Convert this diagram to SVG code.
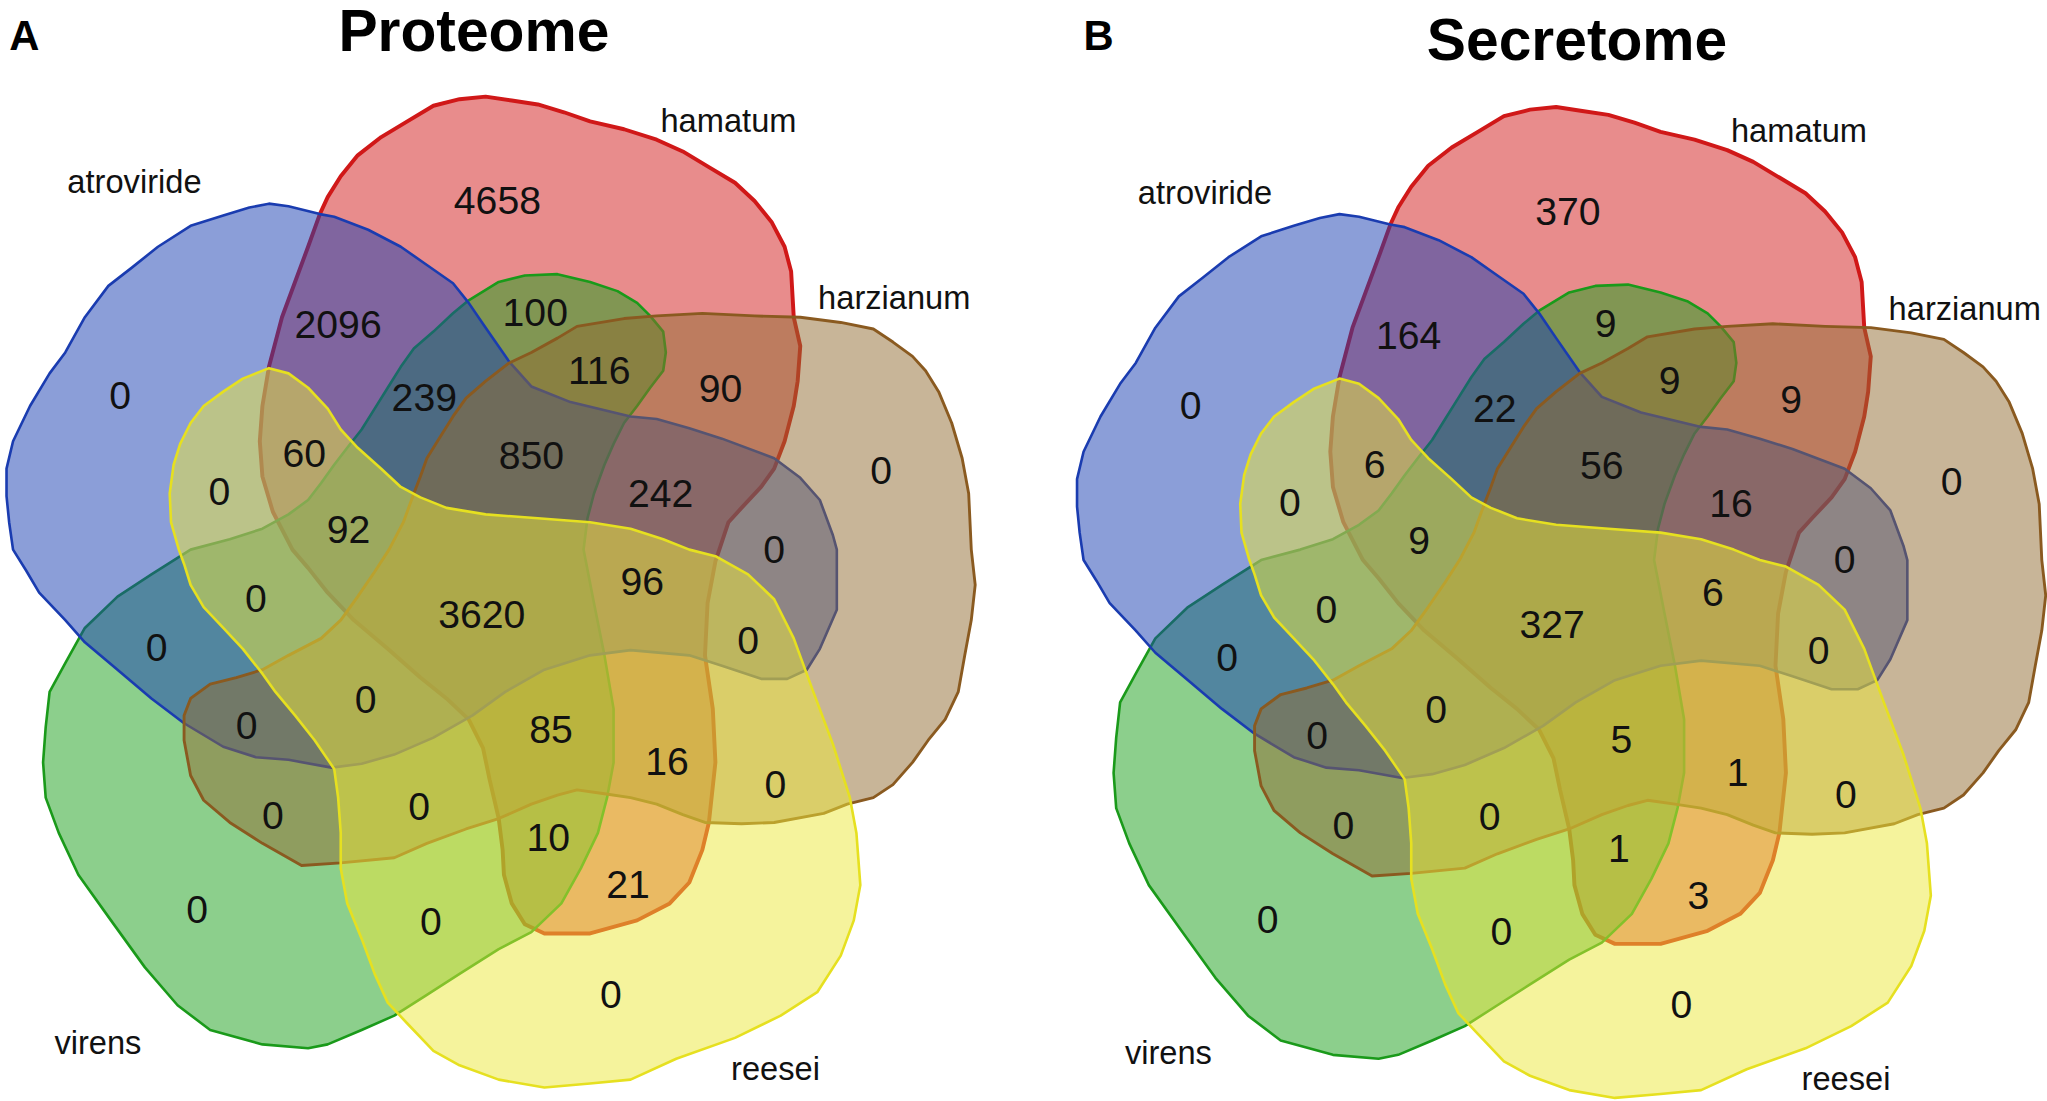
<svg xmlns="http://www.w3.org/2000/svg" width="2047" height="1101" viewBox="0 0 2047 1101">
<style>
.s{stroke-linejoin:round}
.red{fill:#d11a1a;fill-opacity:.5;stroke:#d01818;stroke-width:3}
.grn{fill:#199f19;fill-opacity:.5;stroke:#1a9a1a;stroke-width:2}
.blu{fill:#173db1;fill-opacity:.5;stroke:#1a3cb0;stroke-width:2}
.brn{fill:#916b31;fill-opacity:.5;stroke:#8a5a20;stroke-width:2.2}
.yel{fill:#ebe739;fill-opacity:.5;stroke:#e6e020;stroke-width:2}
text{font-family:"Liberation Sans",Arial,sans-serif;fill:#111}
.n{font-size:30px;text-anchor:middle}
.l{font-size:25px;text-anchor:middle}
.t{font-size:45px;font-weight:bold;text-anchor:middle;fill:#000}
.p{font-size:32px;font-weight:bold;fill:#000}
</style>
<defs>
<path id="shRed" d="M245,164 L251,151 261,135 274,119 292,105 312,93 332,81 352,76 372,74 392,77 412,80 432,86 452,93 478,99 503,107 523,116 543,128 563,140 578,154 591,170 601,189 606,208 608,243 613,265 611,292 608,311 601,338 593,359 583,373 568,389 558,400 548,430 542,462 540,502 546,543 548,584 543,630 538,651 528,676 513,692 488,705 452,715 417,715 402,708 392,692 386,670 385,651 382,627 375,597 370,573 359,551 342,535 322,519 297,497 271,475 251,454 236,435 224,421 209,392 201,365 199,338 201,311 206,281 216,243 226,216 236,189 Z"/>
<path id="shGrn" d="M359,230 L382,216 402,211 427,210 452,216 473,223 488,232 498,242 508,254 510,270 508,284 498,297 488,311 478,324 470,340 463,356 455,378 450,397 447,421 455,462 463,502 470,543 470,584 465,611 458,638 445,665 430,692 407,714 382,727 352,746 327,762 302,778 277,789 251,800 236,803 201,800 161,789 136,770 111,741 85,705 60,670 45,638 35,611 33,584 35,557 38,530 50,508 65,481 90,457 116,440 146,421 176,413 201,405 221,394 236,383 246,370 256,356 266,343 277,329 287,313 297,297 307,281 317,267 332,254 347,240 Z"/>
<path id="shBlu" d="M206,156 L221,158 245,164 256,166 282,176 307,189 327,203 347,217 359,232 372,251 390,277 407,296 437,308 483,319 503,321 528,328 553,336 593,351 613,366 628,383 638,410 641,421 641,467 628,497 618,513 603,520 583,520 553,510 528,502 483,498 452,502 417,513 387,530 362,548 332,565 302,578 277,585 254,588 221,582 196,580 171,572 141,554 116,535 90,513 65,492 50,475 30,454 20,437 10,421 7,400 5,380 5,359 10,338 23,311 38,286 50,270 65,243 83,219 101,205 121,189 146,173 171,165 191,159 Z"/>
<path id="shBrn" d="M390,278 L407,270 427,259 442,250 478,244 503,242 538,240 578,242 613,243 644,247 669,252 684,262 699,273 709,284 719,300 729,324 737,351 742,378 744,421 747,448 744,475 739,502 734,530 724,551 711,567 699,584 684,601 669,611 649,616 631,623 593,630 568,631 540,630 523,624 503,616 483,611 463,608 442,605 427,609 407,616 382,627 357,635 327,646 302,657 261,661 231,663 201,646 176,630 156,613 146,594 141,567 141,548 146,535 161,524 181,519 201,513 221,502 246,489 261,475 274,457 287,438 298,421 309,400 317,378 322,365 327,351 337,335 347,319 357,305 372,292 Z"/>
<path id="shYel" d="M206,282 L221,286 236,297 251,313 261,329 274,343 292,359 307,373 322,381 342,389 372,394 412,397 452,400 483,405 508,413 528,421 548,426 573,440 593,459 608,489 623,530 638,570 651,611 656,638 659,678 654,705 644,732 626,760 598,778 563,795 518,811 483,827 452,830 417,833 382,827 352,816 332,805 312,784 297,768 287,746 277,719 266,692 261,665 261,638 259,611 256,589 241,567 226,548 211,530 201,516 186,497 171,481 156,465 146,448 141,432 137,421 131,400 130,378 133,356 138,340 146,324 156,311 171,300 186,290 Z"/>
</defs>
<rect width="2047" height="1101" fill="#fff"/>
<g transform="scale(1.3055)">
  <g id="panelA">
    <text class="p" x="7" y="38">A</text>
    <text class="t" x="363" y="39">Proteome</text>
    <g id="setsA" class="s">
      <g id="A-hamatum"><use href="#shRed" class="red"/></g>
      <g id="A-virens"><use href="#shGrn" class="grn"/></g>
      <g id="A-atroviride"><use href="#shBlu" class="blu"/></g>
      <g id="A-harzianum"><use href="#shBrn" class="brn"/></g>
      <g id="A-reesei"><use href="#shYel" class="yel"/></g>
    </g>
    <g id="labelsA">
      <text class="l" x="103" y="148">atroviride</text>
      <text class="l" x="558" y="101">hamatum</text>
      <text class="l" x="685" y="237">harzianum</text>
      <text class="l" x="75" y="807">virens</text>
      <text class="l" x="594" y="827">reesei</text>
    </g>
    <g id="countsA">
      <text class="n" x="381" y="164">4658</text>
      <text class="n" x="259" y="259">2096</text>
      <text class="n" x="410" y="250">100</text>
      <text class="n" x="459" y="294">116</text>
      <text class="n" x="552" y="308">90</text>
      <text class="n" x="92" y="313">0</text>
      <text class="n" x="325" y="315">239</text>
      <text class="n" x="233" y="358">60</text>
      <text class="n" x="407" y="359">850</text>
      <text class="n" x="168" y="387">0</text>
      <text class="n" x="506" y="388">242</text>
      <text class="n" x="675" y="371">0</text>
      <text class="n" x="267" y="416">92</text>
      <text class="n" x="593" y="431">0</text>
      <text class="n" x="492" y="456">96</text>
      <text class="n" x="196" y="469">0</text>
      <text class="n" x="369" y="481">3620</text>
      <text class="n" x="573" y="501">0</text>
      <text class="n" x="120" y="506">0</text>
      <text class="n" x="280" y="546">0</text>
      <text class="n" x="189" y="566">0</text>
      <text class="n" x="422" y="569">85</text>
      <text class="n" x="511" y="594">16</text>
      <text class="n" x="594" y="611">0</text>
      <text class="n" x="209" y="635">0</text>
      <text class="n" x="321" y="628">0</text>
      <text class="n" x="420" y="652">10</text>
      <text class="n" x="481" y="688">21</text>
      <text class="n" x="151" y="707">0</text>
      <text class="n" x="330" y="716">0</text>
      <text class="n" x="468" y="772">0</text>
    </g>
  </g>
  <g id="panelB">
    <text class="p" x="830" y="38">B</text>
    <text class="t" x="1208" y="46">Secretome</text>
    <g transform="translate(820,8)">
      <g id="setsB" class="s">
        <g id="B-hamatum"><use href="#shRed" class="red"/></g>
        <g id="B-virens"><use href="#shGrn" class="grn"/></g>
        <g id="B-atroviride"><use href="#shBlu" class="blu"/></g>
        <g id="B-harzianum"><use href="#shBrn" class="brn"/></g>
        <g id="B-reesei"><use href="#shYel" class="yel"/></g>
      </g>
      <g id="labelsB">
        <text class="l" x="103" y="148">atroviride</text>
        <text class="l" x="558" y="101">hamatum</text>
        <text class="l" x="685" y="237">harzianum</text>
        <text class="l" x="75" y="807">virens</text>
        <text class="l" x="594" y="827">reesei</text>
      </g>
      <g id="countsB">
        <text class="n" x="381" y="164">370</text>
        <text class="n" x="259" y="259">164</text>
        <text class="n" x="410" y="250">9</text>
        <text class="n" x="459" y="294">9</text>
        <text class="n" x="552" y="308">9</text>
        <text class="n" x="92" y="313">0</text>
        <text class="n" x="325" y="315">22</text>
        <text class="n" x="233" y="358">6</text>
        <text class="n" x="407" y="359">56</text>
        <text class="n" x="168" y="387">0</text>
        <text class="n" x="506" y="388">16</text>
        <text class="n" x="675" y="371">0</text>
        <text class="n" x="267" y="416">9</text>
        <text class="n" x="593" y="431">0</text>
        <text class="n" x="492" y="456">6</text>
        <text class="n" x="196" y="469">0</text>
        <text class="n" x="369" y="481">327</text>
        <text class="n" x="573" y="501">0</text>
        <text class="n" x="120" y="506">0</text>
        <text class="n" x="280" y="546">0</text>
        <text class="n" x="189" y="566">0</text>
        <text class="n" x="422" y="569">5</text>
        <text class="n" x="511" y="594">1</text>
        <text class="n" x="594" y="611">0</text>
        <text class="n" x="209" y="635">0</text>
        <text class="n" x="321" y="628">0</text>
        <text class="n" x="420" y="652">1</text>
        <text class="n" x="481" y="688">3</text>
        <text class="n" x="151" y="707">0</text>
        <text class="n" x="330" y="716">0</text>
        <text class="n" x="468" y="772">0</text>
      </g>
    </g>
  </g>
</g>
</svg>
